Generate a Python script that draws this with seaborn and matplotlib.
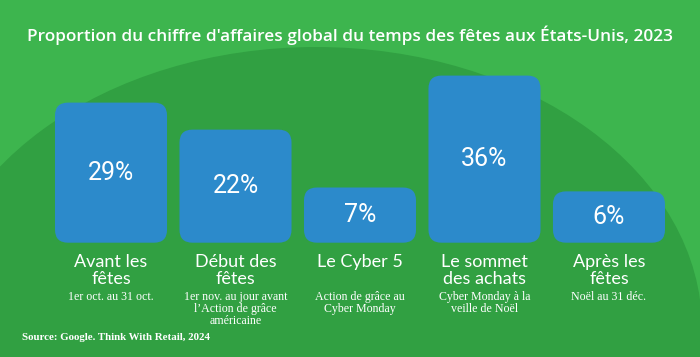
import numpy as np
import pandas as pd
import matplotlib
matplotlib.use("Agg")
import matplotlib.pyplot as plt
import matplotlib.transforms as mtrans
from matplotlib.patches import FancyBboxPatch, Ellipse
import seaborn as sns

# data
periods = ["Avant les\nfêtes", "Début des\nfêtes", "Le Cyber 5",
           "Le sommet\ndes achats", "Après les\nfêtes"]
shares = [29, 22, 7, 36, 6]
ranges = ["1er oct. au 31 oct.",
          "1er nov. au jour avant\nl\u2019Action de grâce\naméricaine",
          "Action de grâce au\nCyber Monday",
          "Cyber Monday à la\nveille de Noël",
          "Noël au 31 déc."]
title = "Proportion du chiffre d'affaires global du temps des fêtes aux États-Unis, 2023"
source = "Source: Google. Think With Retail, 2024"

d = pd.DataFrame({"periode": periods, "part": shares})

GREEN = "#3db54e"
DARK = "#31a042"
BLUE = "#2c8acb"
W, H = 700, 357
floor = 7.3  # bars start a bit below zero like the original design

sns.set_theme(style="white")
fig = plt.figure(figsize=(W / 100, H / 100), dpi=100)
fig.patch.set_facecolor(GREEN)

# background layer in pixel units
bg = fig.add_axes([0, 0, 1, 1])
bg.set_xlim(0, W)
bg.set_ylim(H, 0)
bg.axis("off")
bg.add_patch(Ellipse((316, 328), 772, 562, color=DARK, lw=0))

ax = fig.add_axes([55 / W, (H - 242.7) / H, 610 / W, (242.7 - 60) / H])
ax.patch.set_alpha(0)
sns.barplot(data=d, x="periode", y="part", color=BLUE, saturation=1,
            width=0.9, ax=ax)
ax.set_xlim(-0.45, len(shares) - 0.55)
ax.set_ylim(-floor, 40.04)
ax.axis("off")

# swap the plain bars for rounded ones
px_x = ax.transData.transform([[1, 0]])[0, 0] - ax.transData.transform([[0, 0]])[0, 0]
px_y = ax.transData.transform([[0, 1]])[0, 1] - ax.transData.transform([[0, 0]])[0, 1]
r = 13 / px_x
for p in list(ax.patches):
    x0, w, h = p.get_x(), p.get_width(), p.get_height()
    p.remove()
    ax.add_patch(FancyBboxPatch((x0, -floor), w, h + floor,
                                boxstyle=f"round,pad=0,rounding_size={r}",
                                mutation_aspect=px_x / px_y,
                                fc=BLUE, ec="none"))
    ax.text(x0 + w / 2, (h - floor) / 2, f"{h:.0f}%", ha="center", va="center",
            color="white", fontsize=18, family="Roboto")

lab = mtrans.blended_transform_factory(ax.transData, bg.transData)
for i, (name, sub) in enumerate(zip(periods, ranges)):
    ax.text(i, 254, name, transform=lab, ha="center", va="top", color="white",
            fontsize=13, family="Lato", linespacing=1.05)
    ax.text(i, 291, sub, transform=lab, ha="center", va="top", color="white",
            fontsize=8.6, family="Liberation Serif", linespacing=1.0)

bg.text(350, 35, title, ha="center", va="center", color="white",
        fontsize=12.4, family="Open Sans", fontweight="semibold")
bg.text(22, 338, source, ha="left", va="center", color="white",
        fontsize=7.8, family="Liberation Serif", fontweight="bold")

fig.savefig("out.png", dpi=100, facecolor=GREEN)
